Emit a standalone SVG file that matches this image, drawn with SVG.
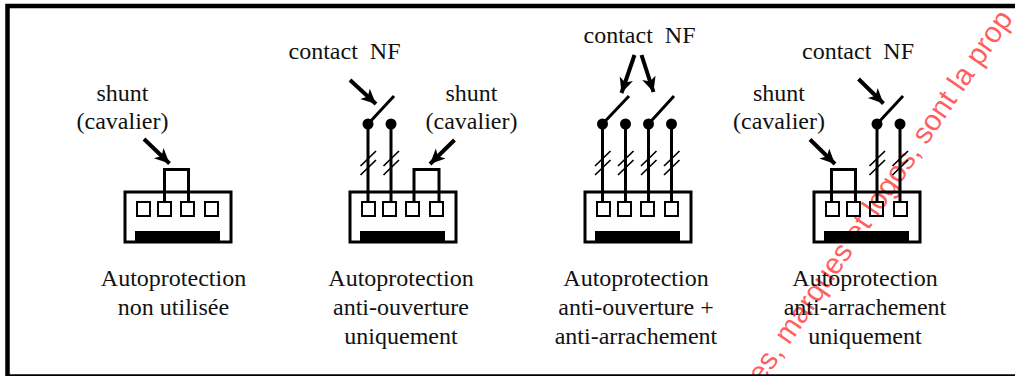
<svg xmlns="http://www.w3.org/2000/svg" width="1015" height="376" viewBox="0 0 1015 376">
<defs>
<style>
text{font-family:"Liberation Serif","Times New Roman",serif;font-size:24px;fill:#111;text-anchor:middle;white-space:pre}
.c{fill:none;stroke:#000;stroke-width:3;stroke-linecap:butt}
.p{fill:none;stroke:#000;stroke-width:2}
.t{fill:none;stroke:#000;stroke-width:1.7}
.a{stroke:#000;stroke-width:4;fill:none}
text.wm{font-family:"Liberation Sans",Arial,sans-serif;font-size:29.500px;fill:#ff0000;fill-opacity:.65;text-anchor:start}
</style>
<marker id="ah" markerUnits="userSpaceOnUse" markerWidth="18" markerHeight="16" refX="15" refY="7" orient="auto"><path d="M0 0L15 7L0 14L4 7Z" fill="#000"/></marker>
<g id="conn">
<rect class="c" x="125" y="192" width="106" height="50"/>
<rect x="135" y="231" width="85" height="12" fill="#000"/>
<rect class="p" x="137" y="202" width="13" height="14"/>
<rect class="p" x="158" y="202" width="13" height="14"/>
<rect class="p" x="181" y="202" width="13" height="14"/>
<rect class="p" x="205" y="202" width="13" height="14"/>
</g>
<g id="ticks"><path class="t" d="M-7.500 11L8 -4M-7.500 20L8 5"/></g>
</defs>
<rect width="1015" height="376" fill="#fff"/>
<text class="wm" transform="translate(762 385) rotate(-55.500)">es, marques et logos, sont la prop</text>
<rect x="7.500" y="6" width="1100" height="370.500" fill="none" stroke="#000" stroke-width="4.500"/>
<g id="node-1">
<use href="#conn"/>
<path class="c" d="M164.500 202V169.500H188.500V202"/>
<text x="122.500" y="101">shunt</text>
<text x="122.500" y="129">(cavalier)</text>
<text x="173.500" y="286">Autoprotection</text>
<text x="173.500" y="315">non utilisée</text>
</g>
<g id="node-2">
<use href="#conn" x="225"/>
<path class="c" d="M414 202V169.500H439V202"/>
<path class="c" d="M368 202V124M391 202V124"/>
<path class="c" d="M368 124L394 96"/>
<circle cx="368" cy="124" r="5.500"/><circle cx="391" cy="124" r="5.500"/>
<use href="#ticks" x="368" y="155"/><use href="#ticks" x="391" y="155"/>
<text x="344.500" y="59">contact  NF</text>
<text x="471.500" y="101">shunt</text>
<text x="471.500" y="129">(cavalier)</text>
<text x="401" y="286">Autoprotection</text>
<text x="401" y="315">anti-ouverture</text>
<text x="401" y="344">uniquement</text>
</g>
<g id="node-3">
<use href="#conn" x="460"/>
<path class="c" d="M602.500 202V124M625.500 202V124M648.500 202V124M671.500 202V124"/>
<path class="c" d="M602.500 124L629 96M648.500 124L674 96"/>
<circle cx="602.500" cy="124" r="5.500"/><circle cx="625.500" cy="124" r="5.500"/><circle cx="648.500" cy="124" r="5.500"/><circle cx="671.500" cy="124" r="5.500"/>
<use href="#ticks" x="602.500" y="155"/><use href="#ticks" x="625.500" y="155"/><use href="#ticks" x="648.500" y="155"/><use href="#ticks" x="671.500" y="155"/>
<text x="639.500" y="43">contact  NF</text>
<text x="636" y="286">Autoprotection</text>
<text x="636" y="315">anti-ouverture +</text>
<text x="636" y="344">anti-arrachement</text>
</g>
<g id="node-4">
<use href="#conn" x="689"/>
<path class="c" d="M831.500 202V169.500H855.500V202"/>
<path class="c" d="M877 202V124M900 202V124"/>
<path class="c" d="M877 124L903 96"/>
<circle cx="877" cy="124" r="5.500"/><circle cx="900" cy="124" r="5.500"/>
<use href="#ticks" x="877" y="155"/><use href="#ticks" x="900" y="155"/>
<text x="858" y="59">contact  NF</text>
<text x="779" y="101">shunt</text>
<text x="779" y="129">(cavalier)</text>
<text x="865" y="286">Autoprotection</text>
<text x="865" y="315">anti-arrachement</text>
<text x="865" y="344">uniquement</text>
</g>
<g id="connectors">
<path class="a" marker-end="url(#ah)" d="M144 139L169.500 163.500"/>
<path class="a" marker-end="url(#ah)" d="M350 80L376 104"/>
<path class="a" marker-end="url(#ah)" d="M454.500 140L430 164"/>
<path class="a" marker-end="url(#ah)" d="M634.500 55L621.500 93"/>
<path class="a" marker-end="url(#ah)" d="M641.500 55L653.500 92"/>
<path class="a" marker-end="url(#ah)" d="M858.500 79L883.500 103.500"/>
<path class="a" marker-end="url(#ah)" d="M810 139.500L835 164"/>
</g>
</svg>
